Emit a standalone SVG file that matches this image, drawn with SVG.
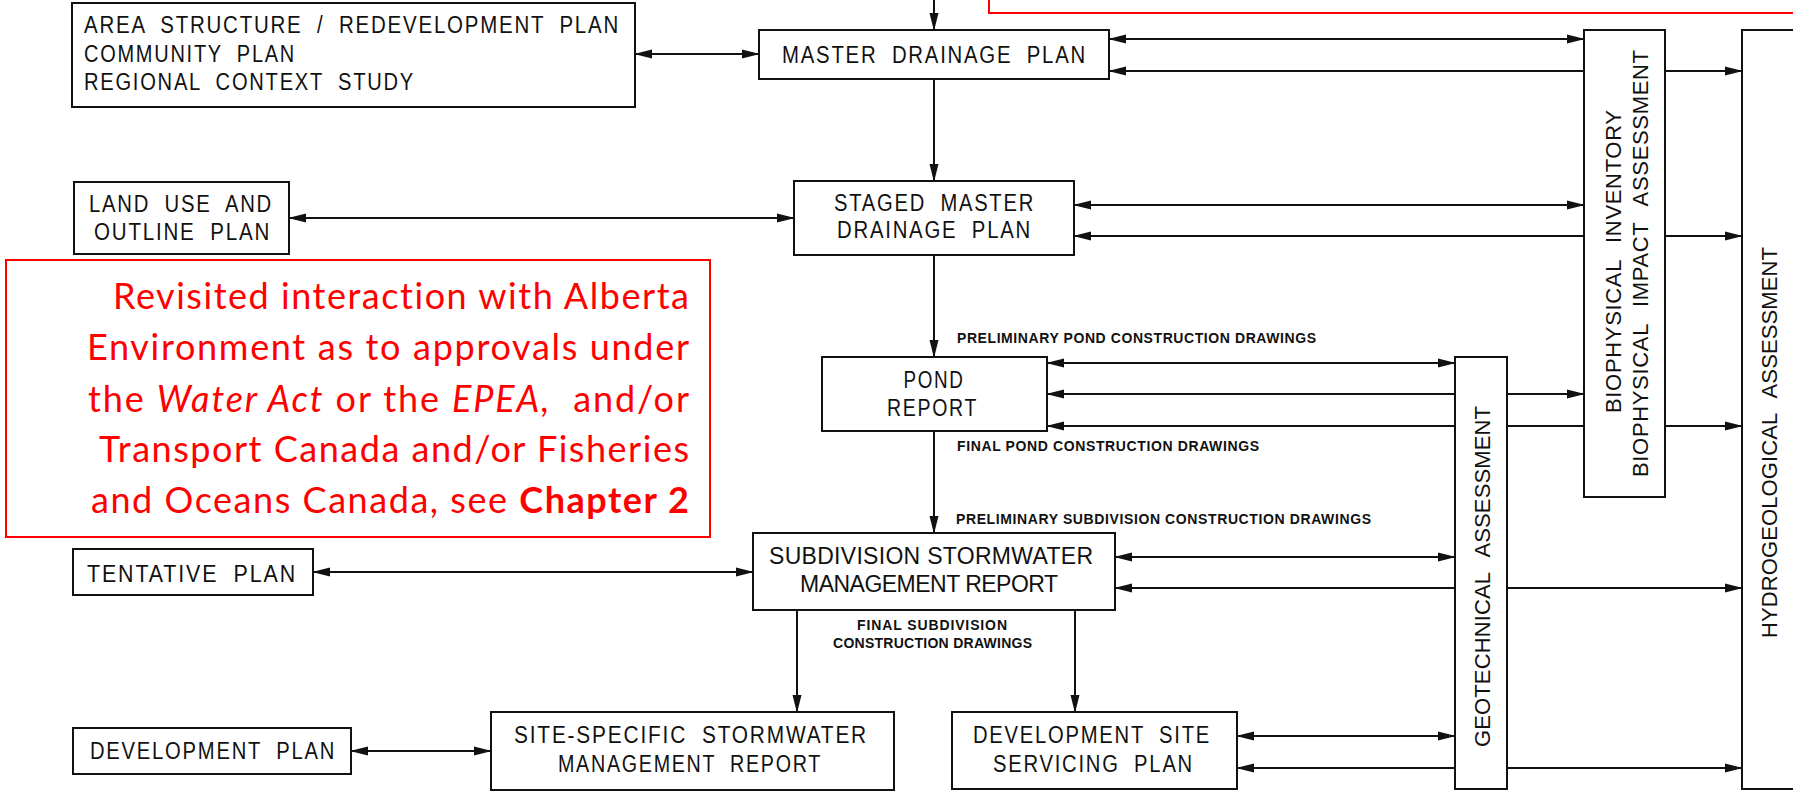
<svg xmlns="http://www.w3.org/2000/svg" width="1793" height="793" viewBox="0 0 1793 793">
<defs>
<style>
.box{fill:#fff;stroke:#111;stroke-width:2}
.lbl{font-family:"Liberation Sans",Arial,sans-serif;font-size:23px;fill:#111;letter-spacing:2px;word-spacing:8px}
.wide{font-family:"Liberation Sans",Arial,sans-serif;font-size:23px;fill:#111}
.vlbl{font-family:"Liberation Sans",Arial,sans-serif;font-size:22px;fill:#111;word-spacing:10px}
.sm{font-family:"Liberation Sans",Arial,sans-serif;font-size:14px;font-weight:bold;fill:#111}
.red{fill:none;stroke:#f00;stroke-width:2}
.rt{font-family:Lato,"Open Sans",sans-serif;font-size:36px;fill:#f00;font-variant-ligatures:none}
.c line{stroke:#111;stroke-width:2}
.c .b{marker-start:url(#ah);marker-end:url(#ah)}
.c .e{marker-end:url(#ah)}
</style>
<marker id="ah" markerUnits="userSpaceOnUse" markerWidth="18" markerHeight="10" refX="17" refY="5" orient="auto-start-reverse" viewBox="0 0 18 10">
<path d="M0,0.5 L18,5 L0,9.5 z" fill="#111"/>
</marker>
</defs>
<rect width="1793" height="793" fill="#fff"/>

<g id="connectors" class="c">
<line class="e" x1="934" y1="-5" x2="934" y2="30"/>
<line class="b" x1="635" y1="54" x2="759" y2="54"/>
<line class="e" x1="934" y1="79" x2="934" y2="181"/>
<line class="b" x1="1109" y1="39" x2="1584" y2="39"/>
<line class="b" x1="1109" y1="71" x2="1742" y2="71"/>
<line class="b" x1="289" y1="218" x2="794" y2="218"/>
<line class="b" x1="1074" y1="205" x2="1584" y2="205"/>
<line class="b" x1="1074" y1="236" x2="1742" y2="236"/>
<line class="e" x1="934" y1="255" x2="934" y2="357"/>
<line class="b" x1="1047" y1="363" x2="1455" y2="363"/>
<line class="b" x1="1047" y1="394" x2="1584" y2="394"/>
<line class="b" x1="1047" y1="426" x2="1742" y2="426"/>
<line class="e" x1="934" y1="431" x2="934" y2="533"/>
<line class="b" x1="313" y1="572" x2="753" y2="572"/>
<line class="b" x1="1115" y1="557" x2="1455" y2="557"/>
<line class="b" x1="1115" y1="588" x2="1742" y2="588"/>
<line class="e" x1="797" y1="610" x2="797" y2="712"/>
<line class="e" x1="1075" y1="610" x2="1075" y2="712"/>
<line class="b" x1="351" y1="751" x2="491" y2="751"/>
<line class="b" x1="1237" y1="736" x2="1455" y2="736"/>
<line class="b" x1="1237" y1="768" x2="1742" y2="768"/>
</g>

<g id="labels">
<text class="sm" x="957" y="343" textLength="359">PRELIMINARY POND CONSTRUCTION DRAWINGS</text>
<text class="sm" x="957" y="451" textLength="302">FINAL POND CONSTRUCTION DRAWINGS</text>
<text class="sm" x="956" y="524" textLength="415">PRELIMINARY SUBDIVISION CONSTRUCTION DRAWINGS</text>
<text class="sm" x="932" y="630" text-anchor="middle" textLength="150">FINAL SUBDIVISION</text>
<text class="sm" x="932.5" y="648" text-anchor="middle" textLength="199">CONSTRUCTION DRAWINGS</text>
</g>

<g id="asp">
<rect class="box" x="72" y="3" width="563" height="104"/>
<text class="lbl" x="84" y="33" textLength="536" lengthAdjust="spacingAndGlyphs">AREA STRUCTURE / REDEVELOPMENT PLAN</text>
<text class="lbl" x="84" y="62" textLength="212" lengthAdjust="spacingAndGlyphs">COMMUNITY PLAN</text>
<text class="lbl" x="84" y="90" textLength="331" lengthAdjust="spacingAndGlyphs">REGIONAL CONTEXT STUDY</text>
</g>

<g id="mdp">
<rect class="box" x="759" y="30" width="350" height="49"/>
<text class="lbl" x="782" y="63" textLength="305" lengthAdjust="spacingAndGlyphs">MASTER DRAINAGE PLAN</text>
</g>

<g id="luop">
<rect class="box" x="74" y="182" width="215" height="72"/>
<text class="lbl" x="89" y="212" textLength="184" lengthAdjust="spacingAndGlyphs">LAND USE AND</text>
<text class="lbl" x="94" y="240" textLength="177" lengthAdjust="spacingAndGlyphs">OUTLINE PLAN</text>
</g>

<g id="smdp">
<rect class="box" x="794" y="181" width="280" height="74"/>
<text class="lbl" x="834" y="211" textLength="201" lengthAdjust="spacingAndGlyphs">STAGED MASTER</text>
<text class="lbl" x="837" y="238" textLength="195" lengthAdjust="spacingAndGlyphs">DRAINAGE PLAN</text>
</g>

<g id="pond">
<rect class="box" x="822" y="357" width="225" height="74"/>
<text class="lbl" x="903.5" y="388" textLength="61" lengthAdjust="spacingAndGlyphs">POND</text>
<text class="lbl" x="887" y="416" textLength="91" lengthAdjust="spacingAndGlyphs">REPORT</text>
</g>

<g id="ssmr">
<rect class="box" x="753" y="533" width="362" height="77"/>
<text class="wide" x="769" y="564" textLength="324">SUBDIVISION STORMWATER</text>
<text class="wide" x="800" y="592" textLength="258">MANAGEMENT REPORT</text>
</g>

<g id="tp">
<rect class="box" x="73" y="549" width="240" height="46"/>
<text class="lbl" x="87" y="582" textLength="210" lengthAdjust="spacingAndGlyphs">TENTATIVE PLAN</text>
</g>

<g id="dp">
<rect class="box" x="73" y="728" width="278" height="46"/>
<text class="lbl" x="90" y="759" textLength="246" lengthAdjust="spacingAndGlyphs">DEVELOPMENT PLAN</text>
</g>

<g id="sssmr">
<rect class="box" x="491" y="712" width="403" height="78"/>
<text class="lbl" x="514" y="743" textLength="354" lengthAdjust="spacingAndGlyphs">SITE-SPECIFIC STORMWATER</text>
<text class="lbl" x="558" y="772" textLength="264" lengthAdjust="spacingAndGlyphs">MANAGEMENT REPORT</text>
</g>

<g id="dssp">
<rect class="box" x="952" y="712" width="285" height="77"/>
<text class="lbl" x="973" y="743" textLength="238" lengthAdjust="spacingAndGlyphs">DEVELOPMENT SITE</text>
<text class="lbl" x="993" y="772" textLength="201" lengthAdjust="spacingAndGlyphs">SERVICING PLAN</text>
</g>

<g id="bio">
<rect class="box" x="1584" y="30" width="81" height="467"/>
<text class="vlbl" transform="translate(1621,413) rotate(-90)" textLength="303">BIOPHYSICAL INVENTORY</text>
<text class="vlbl" transform="translate(1648,477) rotate(-90)" textLength="427">BIOPHYSICAL IMPACT ASSESSMENT</text>
</g>

<g id="geo">
<rect class="box" x="1455" y="357" width="52" height="432"/>
<text class="vlbl" transform="translate(1490,747) rotate(-90)" textLength="341">GEOTECHNICAL ASSESSMENT</text>
</g>

<g id="hyd">
<rect class="box" x="1742" y="30" width="80" height="759"/>
<text class="vlbl" transform="translate(1777,638) rotate(-90)" textLength="391">HYDROGEOLOGICAL ASSESSMENT</text>
</g>

<g id="note-top">
<rect class="red" x="989" y="-10" width="830" height="23"/>
</g>

<g id="note">
<rect class="red" x="6" y="260" width="704" height="277"/>
<text class="rt" x="689" y="309" text-anchor="end" textLength="576">Revisited interaction with Alberta</text>
<text class="rt" x="689" y="360" text-anchor="end" textLength="602">Environment as to approvals under</text>
<text class="rt" x="689" y="412" text-anchor="end" textLength="601" xml:space="preserve">the <tspan font-style="italic">Water Act</tspan> or the <tspan font-style="italic">EPEA,</tspan>  and/or</text>
<text class="rt" x="689" y="462" text-anchor="end" textLength="590">Transport Canada and/or Fisheries</text>
<text class="rt" x="689" y="513" text-anchor="end" textLength="598">and Oceans Canada, see <tspan font-weight="bold">Chapter 2</tspan></text>
</g>
</svg>
